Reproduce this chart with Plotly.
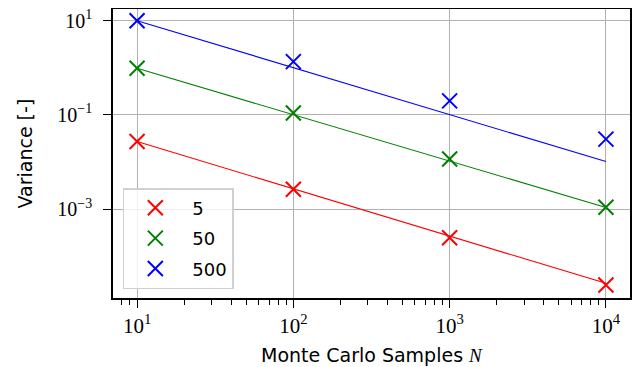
import plotly.graph_objects as go

# Data
samples = [10, 100, 1000, 10000]
labels = ["5", "50", "500"]
colors = ["#ff0000", "#008000", "#0000ff"]
var_5 = [0.0271, 0.00262, 0.000246, 0.0000243]
var_50 = [0.975, 0.109, 0.0115, 0.00109]
var_500 = [10.0, 1.35, 0.198, 0.0305]
fit_x = [10, 10000]
fit_5 = [0.0271, 0.0000264]
fit_50 = [0.975, 0.00108]
fit_500 = [10.0, 0.0102]

x_tickvals = [10, 100, 1000, 10000]
x_ticktext = ["10<sup>1</sup>", "10<sup>2</sup>", "10<sup>3</sup>", "10<sup>4</sup>"]
x_minor = [m * 10 ** e for e in range(0, 5) for m in range(2, 10)]
y_tickvals = [10, 0.1, 0.001]
y_ticktext = ["10<sup>1</sup>", "10<sup>−1</sup>", "10<sup>−3</sup>"]

fig = go.Figure()
for fy, c in zip([fit_5, fit_50, fit_500], colors):
    fig.add_trace(go.Scatter(x=fit_x, y=fy, mode="lines", line=dict(color=c, width=1.1),
                             showlegend=False, hoverinfo="skip"))
for vy, c, lab in zip([var_5, var_50, var_500], colors, labels):
    fig.add_trace(go.Scatter(x=samples, y=vy, mode="markers", name=lab, legendgroup=lab,
                             marker=dict(symbol="x-thin", size=15, color=c,
                                         line=dict(color=c, width=2))))

serif = "Liberation Serif, DejaVu Serif, serif"
sans = "DejaVu Sans, sans-serif"

fig.update_layout(
    width=633, height=359,
    margin=dict(l=105, r=11, t=1, b=69, autoexpand=False),
    plot_bgcolor="white", paper_bgcolor="white",
    font=dict(family=sans, size=19, color="black"),
    legend=dict(x=0.019, y=0.031, xanchor="left", yanchor="bottom",
                bgcolor="rgba(255,255,255,0.8)", bordercolor="#d0d0d0", borderwidth=1.5,
                font=dict(family=sans, size=18), itemwidth=64, indentation=-6,
                traceorder="grouped", tracegroupgap=4),
    xaxis=dict(type="log", range=[0.846, 4.154], tickmode="array", automargin=False,
               tickvals=x_tickvals, ticktext=x_ticktext,
               tickfont=dict(family=serif, size=21),
               showgrid=True, gridcolor="#b0b0b0", gridwidth=1.3,
               showline=True, linecolor="black", linewidth=1.5, mirror=True,
               ticks="outside", ticklen=8, tickwidth=1.3, tickcolor="black",
               minor=dict(tickvals=x_minor, ticks="outside", ticklen=5, tickwidth=1,
                          tickcolor="black", showgrid=False),
               zeroline=False, ticklabeloverflow="allow"),
    yaxis=dict(type="log", range=[-4.89, 1.248], tickmode="array", automargin=False,
               tickvals=y_tickvals, ticktext=y_ticktext,
               tickfont=dict(family=serif, size=20), ticklabelstandoff=7,
               showgrid=True, gridcolor="#b0b0b0", gridwidth=1.3,
               showline=True, linecolor="black", linewidth=1.5, mirror=True,
               ticks="outside", ticklen=8, tickwidth=1.3, tickcolor="black",
               zeroline=False, ticklabeloverflow="allow"),
    annotations=[
        dict(text="Monte Carlo Samples <span style='font-family:Liberation Serif'><i>N</i></span>",
             xref="paper", yref="paper", x=0.5, y=0, xanchor="center", yanchor="middle",
             yshift=-57, showarrow=False, font=dict(family=sans, size=19)),
        dict(text="Variance [-]", xref="paper", yref="paper", x=0, y=0.5,
             xanchor="center", yanchor="middle", xshift=-89, textangle=-90,
             showarrow=False, font=dict(family=sans, size=19)),
    ],
)

fig.write_html("out.html")
